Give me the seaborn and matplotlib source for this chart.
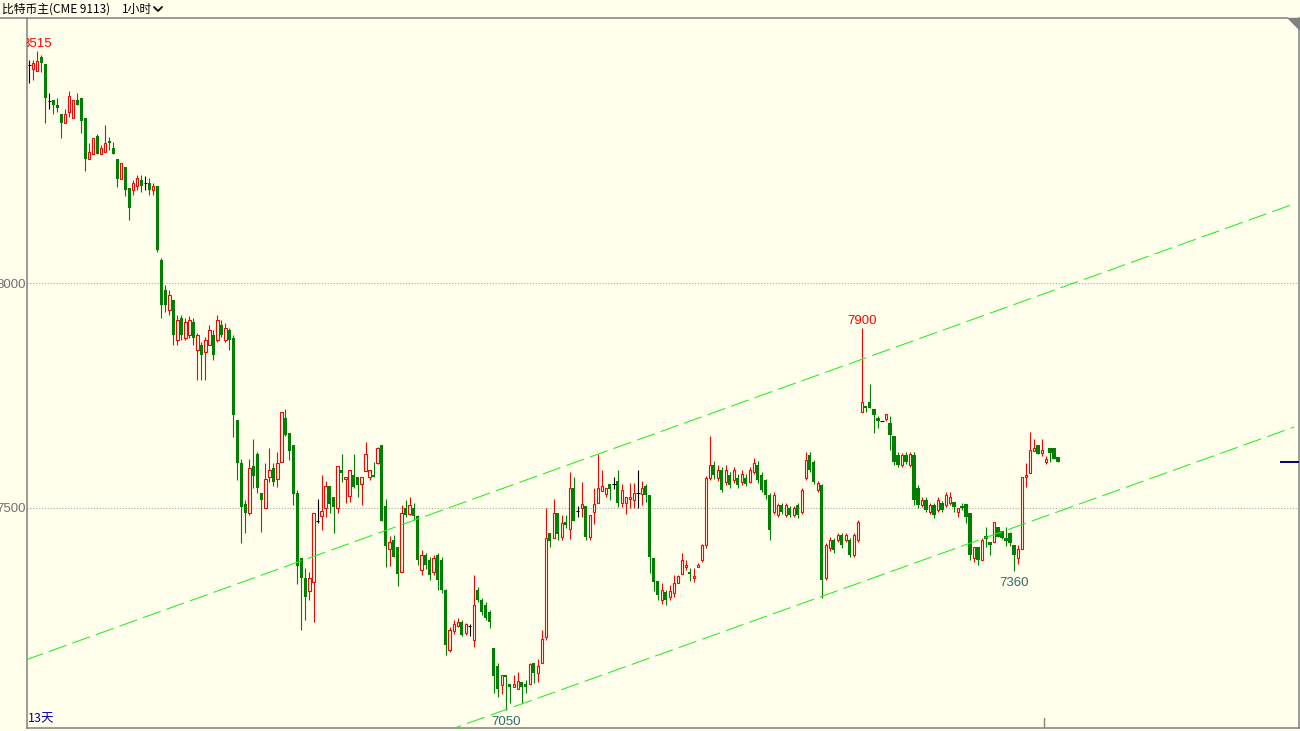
import numpy as np
import pandas as pd
import matplotlib.pyplot as plt
import seaborn as sns
from matplotlib.lines import Line2D
from matplotlib.patches import Polygon

# hourly bars (open, high, low, close)
opens = [
    8485, 8475, 8471, 8502, 8487, 8405, 8407, 8396, 8376, 8356,
    8381, 8367, 8407, 8411, 8367, 8276, 8287, 8327, 8287, 8291,
    8316, 8300, 8276, 8231, 8258, 8211, 8207, 8216, 8229, 8222,
    8222, 8207, 8216, 8051, 7984, 7940, 7962, 7873, 7922, 7878,
    7885, 7913, 7851, 7862, 7847, 7862, 7885, 7873, 7907, 7873,
    7896, 7878, 7696, 7600, 7509, 7489, 7593, 7620, 7533, 7500,
    7569, 7589, 7565, 7602, 7700, 7667, 7640, 7533, 7389, 7345,
    7316, 7336, 7471, 7482, 7500, 7549, 7524, 7500, 7584, 7565,
    7527, 7573, 7569, 7553, 7582, 7569, 7573, 7600, 7640, 7504,
    7409, 7429, 7413, 7358, 7500, 7487, 7500, 7482, 7362, 7396,
    7384, 7358, 7396, 7384, 7318, 7184, 7227, 7238, 7247, 7222,
    7238, 7207, 7318, 7296, 7284, 7269, 7189, 7149, 7107, 7129,
    7109, 7102, 7098, 7113, 7109, 7109, 7156, 7133, 7156, 7213,
    7445, 7433, 7489, 7436, 7469, 7453, 7544, 7493, 7500, 7504,
    7436, 7491, 7511, 7538, 7531, 7553, 7553, 7560, 7511, 7511,
    7520, 7518, 7533, 7531, 7549, 7529, 7389, 7338, 7296, 7313,
    7302, 7311, 7333, 7353, 7369, 7358, 7345, 7369, 7384, 7418,
    7567, 7596, 7567, 7584, 7558, 7573, 7562, 7567, 7558, 7567,
    7558, 7580, 7596, 7573, 7562, 7529, 7491, 7485, 7507, 7485,
    7500, 7485, 7507, 7491, 7567, 7618, 7602, 7540, 7551, 7345,
    7411, 7429, 7429, 7440, 7429, 7429, 7396, 7429, 7713, 7727,
    7736, 7720, 7700, 7693, 7698, 7689, 7660, 7618, 7596, 7618,
    7596, 7618, 7544, 7507, 7518, 7491, 7507, 7496, 7511, 7507,
    7511, 7513, 7491, 7504, 7509, 7489, 7389, 7413, 7384, 7438,
    7425, 7425, 7458, 7449, 7433, 7445, 7418, 7389, 7409, 7569,
    7578, 7627, 7640, 7622, 7602, 7633, 7633, 7613,
]
highs = [
    8496, 8496, 8515, 8507, 8487, 8422, 8407, 8411, 8376, 8387,
    8427, 8407, 8422, 8411, 8367, 8312, 8322, 8331, 8307, 8351,
    8325, 8313, 8276, 8267, 8258, 8211, 8229, 8240, 8240, 8238,
    8233, 8222, 8216, 8056, 7996, 7984, 7962, 7929, 7929, 7922,
    7927, 7922, 7890, 7870, 7880, 7907, 7896, 7929, 7918, 7911,
    7900, 7885, 7696, 7609, 7518, 7609, 7653, 7625, 7533, 7600,
    7633, 7600, 7625, 7713, 7720, 7667, 7640, 7540, 7389, 7367,
    7358, 7489, 7520, 7573, 7560, 7549, 7524, 7593, 7620, 7569,
    7584, 7620, 7569, 7569, 7647, 7584, 7602, 7636, 7640, 7520,
    7438, 7440, 7413, 7507, 7518, 7524, 7510, 7485, 7407, 7400,
    7390, 7396, 7400, 7390, 7320, 7235, 7250, 7255, 7252, 7245,
    7242, 7351, 7325, 7300, 7290, 7273, 7189, 7156, 7129, 7129,
    7109, 7129, 7136, 7113, 7118, 7156, 7156, 7164, 7229, 7500,
    7445, 7520, 7489, 7485, 7485, 7580, 7569, 7504, 7558, 7504,
    7485, 7544, 7620, 7584, 7544, 7553, 7569, 7584, 7553, 7524,
    7556, 7556, 7584, 7560, 7553, 7529, 7389, 7338, 7333, 7318,
    7329, 7351, 7351, 7400, 7384, 7367, 7367, 7378, 7420, 7570,
    7660, 7605, 7595, 7590, 7595, 7580, 7590, 7575, 7585, 7575,
    7590, 7610, 7605, 7580, 7565, 7533, 7535, 7512, 7512, 7512,
    7505, 7505, 7512, 7545, 7625, 7625, 7607, 7560, 7553, 7422,
    7435, 7433, 7445, 7445, 7445, 7433, 7445, 7473, 7900, 7727,
    7776, 7720, 7704, 7693, 7709, 7704, 7660, 7625, 7622, 7625,
    7625, 7625, 7550, 7525, 7525, 7512, 7512, 7525, 7515, 7535,
    7535, 7513, 7500, 7511, 7509, 7489, 7413, 7413, 7433, 7458,
    7425, 7469, 7458, 7449, 7458, 7447, 7418, 7418, 7569, 7600,
    7669, 7653, 7640, 7653, 7615, 7633, 7633, 7613,
]
lows = [
    8445, 8451, 8471, 8470, 8356, 8387, 8376, 8380, 8322, 8356,
    8370, 8367, 8396, 8334, 8250, 8276, 8287, 8287, 8287, 8291,
    8296, 8287, 8213, 8231, 8193, 8140, 8196, 8207, 8202, 8207,
    8196, 8196, 8069, 7922, 7936, 7929, 7862, 7862, 7873, 7873,
    7878, 7862, 7784, 7784, 7784, 7862, 7829, 7870, 7880, 7870,
    7851, 7658, 7562, 7422, 7445, 7485, 7544, 7533, 7447, 7500,
    7558, 7549, 7547, 7602, 7660, 7607, 7507, 7331, 7229, 7251,
    7296, 7247, 7467, 7451, 7480, 7489, 7445, 7489, 7558, 7511,
    7513, 7544, 7524, 7507, 7582, 7562, 7569, 7598, 7471, 7369,
    7371, 7391, 7327, 7358, 7480, 7485, 7473, 7373, 7351, 7365,
    7340, 7351, 7318, 7310, 7173, 7180, 7220, 7235, 7215, 7218,
    7216, 7191, 7290, 7262, 7250, 7233, 7089, 7080, 7087, 7050,
    7067, 7102, 7098, 7067, 7089, 7109, 7111, 7113, 7156, 7207,
    7413, 7433, 7429, 7429, 7456, 7431, 7471, 7480, 7480, 7429,
    7429, 7464, 7511, 7538, 7524, 7518, 7542, 7502, 7502, 7487,
    7500, 7500, 7500, 7507, 7513, 7356, 7316, 7296, 7287, 7284,
    7296, 7302, 7333, 7353, 7362, 7338, 7336, 7369, 7380, 7410,
    7562, 7565, 7560, 7535, 7550, 7545, 7555, 7545, 7550, 7548,
    7555, 7575, 7555, 7535, 7520, 7429, 7487, 7480, 7487, 7480,
    7480, 7480, 7478, 7487, 7562, 7580, 7553, 7535, 7300, 7340,
    7405, 7400, 7425, 7410, 7425, 7390, 7390, 7425, 7713, 7713,
    7722, 7667, 7678, 7693, 7693, 7629, 7596, 7590, 7590, 7598,
    7590, 7507, 7500, 7502, 7490, 7487, 7478, 7490, 7490, 7502,
    7507, 7491, 7480, 7496, 7467, 7384, 7380, 7373, 7384, 7413,
    7396, 7425, 7436, 7431, 7416, 7416, 7360, 7376, 7409, 7547,
    7578, 7627, 7620, 7616, 7598, 7602, 7609, 7602,
]
closes = [
    8485, 8490, 8494, 8490, 8411, 8405, 8396, 8390, 8356, 8376,
    8416, 8407, 8396, 8361, 8276, 8291, 8322, 8287, 8300, 8311,
    8311, 8287, 8231, 8267, 8207, 8167, 8222, 8233, 8216, 8222,
    8207, 8216, 8073, 7951, 7951, 7973, 7885, 7918, 7885, 7913,
    7918, 7878, 7885, 7840, 7873, 7896, 7840, 7918, 7885, 7900,
    7873, 7707, 7600, 7502, 7489, 7589, 7571, 7544, 7518, 7565,
    7584, 7558, 7600, 7713, 7662, 7627, 7531, 7371, 7345, 7302,
    7345, 7489, 7471, 7493, 7549, 7509, 7502, 7593, 7578, 7569,
    7584, 7547, 7551, 7569, 7620, 7584, 7569, 7633, 7471, 7416,
    7425, 7391, 7353, 7489, 7485, 7507, 7482, 7384, 7396, 7373,
    7351, 7389, 7340, 7318, 7196, 7229, 7242, 7247, 7218, 7242,
    7238, 7284, 7296, 7269, 7256, 7247, 7127, 7098, 7129, 7124,
    7102, 7109, 7116, 7102, 7102, 7153, 7133, 7149, 7209, 7433,
    7427, 7489, 7442, 7467, 7462, 7544, 7471, 7493, 7509, 7436,
    7485, 7509, 7544, 7549, 7544, 7542, 7553, 7511, 7540, 7524,
    7524, 7533, 7533, 7544, 7529, 7391, 7336, 7307, 7318, 7296,
    7316, 7333, 7349, 7384, 7373, 7353, 7349, 7373, 7418, 7567,
    7596, 7573, 7584, 7540, 7584, 7551, 7584, 7551, 7576, 7553,
    7584, 7600, 7562, 7540, 7529, 7451, 7529, 7507, 7491, 7507,
    7485, 7500, 7485, 7540, 7607, 7584, 7558, 7556, 7340, 7418,
    7429, 7407, 7440, 7418, 7440, 7396, 7440, 7469, 7736, 7722,
    7722, 7707, 7693, 7693, 7709, 7662, 7602, 7596, 7618, 7602,
    7620, 7518, 7507, 7518, 7496, 7507, 7485, 7518, 7496, 7529,
    7524, 7502, 7500, 7500, 7480, 7396, 7413, 7384, 7429, 7431,
    7418, 7469, 7436, 7433, 7427, 7422, 7396, 7409, 7569, 7573,
    7629, 7633, 7620, 7629, 7609, 7622, 7609, 7602,
]

# trend channel: bar index and price at the two ends of each line
channel_idx = [-1, 316]
upper_price = [7162, 8176]
lower_price = [6669, 7680]

# marked extremes: (bar index, price, label)
high_marks = [(2, 8515, '8515'), (208, 7900, '7900')]
low_marks = [(119, 7050, '7050'), (246, 7360, '7360')]

grid_levels = [7500, 8000]
title_text = '比特币主(CME 9113)'
period_text = '1小时'
span_text = '13天'

BG = '#ffffec'
RED = '#ff0000'
GREEN = '#008000'
GRAY = '#808080'

bars = pd.DataFrame({'open': opens, 'high': highs, 'low': lows, 'close': closes})
bars['idx'] = np.arange(len(bars))
up = bars[bars['close'] > bars['open']]
down = bars[bars['close'] < bars['open']]
flat = bars[bars['close'] == bars['open']]

sns.set_style('white')
plt.rcParams['font.family'] = ['Noto Sans CJK SC', 'DejaVu Sans']

W, H = 1300, 731
fig = plt.figure(figsize=(W / 100, H / 100), dpi=100, facecolor=BG)
ax = fig.add_axes([27 / W, 3 / H, 1272 / W, 710 / H], facecolor=BG)

# wicks
wick_colors = np.where(bars['close'] > bars['open'], RED,
                       np.where(bars['close'] < bars['open'], GREEN, 'black'))
ax.vlines(bars['idx'], bars['low'], bars['high'], colors=wick_colors, lw=0.8, zorder=2)

# bodies: hollow red for rising bars, filled green for falling ones
ax.bar(up['idx'], up['close'] - up['open'], bottom=up['open'], width=0.55,
       facecolor=BG, edgecolor=RED, linewidth=0.8, zorder=3)
ax.bar(down['idx'], down['open'] - down['close'], bottom=down['close'], width=0.8,
       color=GREEN, linewidth=0, zorder=3)
ax.hlines(flat['close'], flat['idx'] - 0.45, flat['idx'] + 0.45, colors='black', lw=0.8, zorder=3)

# trend channel
channel = pd.DataFrame({
    'idx': channel_idx * 2,
    'price': upper_price + lower_price,
    'line': ['upper'] * 2 + ['lower'] * 2,
})
sns.lineplot(data=channel, x='idx', y='price', units='line', estimator=None,
             color='#22ee22', lw=0.75, linestyle=(0, (18, 6)), legend=False, ax=ax, zorder=4)

# extreme labels (clipped to the plot like the original)
for i, p, s in high_marks:
    t = ax.annotate(s, (i, p), xytext=(0, 1), textcoords='offset points', ha='center', va='bottom',
                    color=RED, fontsize=9.5, family='Liberation Sans', annotation_clip=False)
    t.set_clip_box(ax.bbox)
    t.set_clip_on(True)
for i, p, s in low_marks:
    t = ax.annotate(s, (i, p), xytext=(0, -4), textcoords='offset points', ha='center', va='top',
                    color='#2d6a6a', fontsize=9.5, family='Liberation Sans')
    t.set_clip_box(ax.bbox)
    t.set_clip_on(True)

# last price marker on the right edge
ax.hlines(closes[-1], 312.4, 317.2, colors='#000080', lw=1.4, zorder=5, clip_on=False)
# day separator tick at the bottom
ax.axvline(253.4, ymin=0, ymax=10 / 710, color=GRAY, lw=1)

ax.set_xlim(-0.575, 317.2)
ax.set_ylim(7011, 8589)
ax.set_xticks([])
ax.set_yticks(grid_levels)
ax.set_yticklabels([str(v) for v in grid_levels], family='Liberation Sans', fontsize=9.5, color='#6f7070')
ax.tick_params(axis='y', length=0, pad=1)
ax.yaxis.grid(True, linestyle=(0, (1, 1.6)), color='#a9a9a9', lw=0.8)
ax.set_xlabel('')
ax.set_ylabel('')
for side in ['left', 'bottom', 'right']:
    ax.spines[side].set_color(GRAY)
    ax.spines[side].set_linewidth(1.1)
ax.spines['top'].set_visible(False)

ax.text(1 / 1272, 9 / 710, span_text, transform=ax.transAxes, ha='left', va='center',
        color='#0000a0', fontsize=9)

# header strip
fig.add_artist(Line2D([0, 1288 / W], [1 - 18 / H, 1 - 18 / H], color=GRAY, lw=1.1))
fig.add_artist(Polygon([[1288 / W, 1 - 18 / H], [1299 / W, 1 - 18 / H], [1299 / W, 1 - 29 / H]],
                       closed=True, color=GRAY, transform=fig.transFigure))
fig.text(2 / W, 1 - 9 / H, title_text, ha='left', va='center', fontsize=8.5, color='black')
fig.text(122 / W, 1 - 9 / H, period_text, ha='left', va='center', fontsize=8.5, color='black')
fig.add_artist(Line2D([154 / W, 158 / W, 162 / W], [1 - 7 / H, 1 - 11 / H, 1 - 7 / H],
                      color='black', lw=1.3))

fig.savefig('out.png', dpi=100, facecolor=BG)
